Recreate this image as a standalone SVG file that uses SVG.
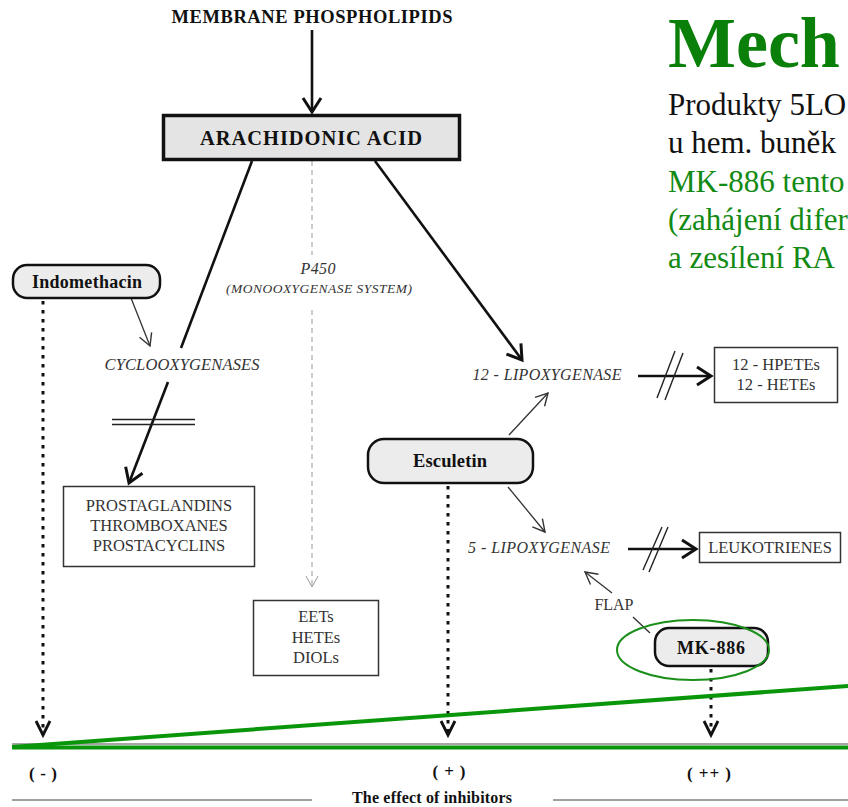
<svg xmlns="http://www.w3.org/2000/svg" width="848" height="807" viewBox="0 0 848 807">
<style>
text{font-family:"Liberation Serif","Times New Roman",serif;fill:#111}
.b{font-weight:bold}
.i{font-style:italic;fill:#333}
.r{fill:#333}
.m{text-anchor:middle}
.box{fill:#fff;stroke:#333;stroke-width:1.5}
.pill{fill:#ececec;stroke:#111;stroke-width:2.5}
.thick{stroke:#111;stroke-width:2.6;fill:none}
.thin{stroke:#333;stroke-width:1.3;fill:none}
.dot{stroke:#111;stroke-width:3;fill:none;stroke-dasharray:3.5 5.5}
.dash{stroke:#999;stroke-width:1;fill:none;stroke-dasharray:5 4}
.slash{stroke:#222;stroke-width:1.4;fill:none}
.green{stroke:#0a960a;stroke-width:4;fill:none}
.gt{fill:#138a13}
</style>
<defs>
<marker id="ahThick" markerUnits="userSpaceOnUse" viewBox="-18 -12 22 24" markerWidth="22" markerHeight="24" refX="0" refY="0" orient="auto">
<path d="M-14,-9 L0,0 L-14,9" fill="none" stroke="#111" stroke-width="3"/>
</marker>
<marker id="ahThin" markerUnits="userSpaceOnUse" viewBox="-16 -10 20 20" markerWidth="20" markerHeight="20" refX="0" refY="0" orient="auto">
<path d="M-12,-6.5 L0,0 L-12,6.5" fill="none" stroke="#333" stroke-width="1.4"/>
</marker>
<marker id="ahDash" markerUnits="userSpaceOnUse" viewBox="-16 -10 20 20" markerWidth="20" markerHeight="20" refX="0" refY="0" orient="auto">
<path d="M-11,-6 L0,0 L-11,6" fill="none" stroke="#999" stroke-width="1"/>
</marker>
<marker id="ahDot" markerUnits="userSpaceOnUse" viewBox="-16 -10 20 20" markerWidth="20" markerHeight="20" refX="0" refY="0" orient="auto">
<path d="M-14,-7 L0,0 L-14,7" fill="none" stroke="#111" stroke-width="2.8"/>
</marker>
</defs>

<g id="title-slide">
<text x="668" y="67" class="b" style="font-size:72px;fill:#0a800a">Mech</text>
<text x="668" y="115" style="font-size:31px">Produkty 5LO</text>
<text x="668" y="153" style="font-size:31px">u hem. buněk</text>
<text x="668" y="192" class="gt" style="font-size:31px">MK-886 tento</text>
<text x="668" y="230" class="gt" style="font-size:31px">(zahájení difer</text>
<text x="668" y="268" class="gt" style="font-size:31px">a zesílení RA</text>
</g>

<g id="connectors">
<line x1="312" y1="30" x2="312" y2="112" class="thick" marker-end="url(#ahThick)"/>
<line x1="252" y1="161" x2="181" y2="348" class="thick"/>
<line x1="168" y1="382" x2="129" y2="483" class="thick" marker-end="url(#ahThick)"/>
<line x1="112" y1="419.5" x2="195" y2="419.5" class="slash"/>
<line x1="112" y1="424.5" x2="195" y2="424.5" class="slash"/>
<line x1="375" y1="161" x2="522" y2="360" class="thick" marker-end="url(#ahThick)"/>
<line x1="312" y1="161" x2="312" y2="255" class="dash"/>
<line x1="312" y1="310" x2="312" y2="587" class="dash" marker-end="url(#ahDash)"/>
<line x1="131" y1="298" x2="150" y2="346" class="thin" marker-end="url(#ahThin)"/>
<line x1="509" y1="435" x2="548" y2="393" class="thin" marker-end="url(#ahThin)"/>
<line x1="508" y1="487" x2="545" y2="532" class="thin" marker-end="url(#ahThin)"/>
<line x1="612" y1="593" x2="585" y2="572" class="thin" marker-end="url(#ahThin)"/>
<line x1="633" y1="617" x2="650" y2="633" class="thin"/>
<line x1="638" y1="376" x2="711" y2="376" class="thick" marker-end="url(#ahThick)"/>
<line x1="657" y1="398" x2="675" y2="351" class="slash"/>
<line x1="665" y1="400" x2="683" y2="353" class="slash"/>
<line x1="628" y1="549" x2="696" y2="549" class="thick" marker-end="url(#ahThick)"/>
<line x1="643" y1="570" x2="662" y2="527" class="slash"/>
<line x1="649" y1="572" x2="668" y2="527" class="slash"/>
<line x1="43" y1="301" x2="43" y2="735" class="dot" marker-end="url(#ahDot)"/>
<line x1="448" y1="486" x2="448" y2="735" class="dot" marker-end="url(#ahDot)"/>
<line x1="711" y1="669" x2="711" y2="735" class="dot" marker-end="url(#ahDot)"/>
</g>

<g id="membrane-phospholipids">
<text x="312" y="23" class="b m" style="font-size:18.5px" textLength="281" lengthAdjust="spacing">MEMBRANE  PHOSPHOLIPIDS</text>
</g>

<g id="arachidonic-acid">
<rect x="163.5" y="115.5" width="296" height="44" fill="#e4e4e4" stroke="#111" stroke-width="3.5"/>
<text x="311" y="145" class="b m" style="font-size:20.5px" textLength="222" lengthAdjust="spacing">ARACHIDONIC  ACID</text>
</g>

<g id="indomethacin">
<rect x="13" y="265" width="147" height="33" rx="14" class="pill"/>
<text x="87" y="288" class="b m" style="font-size:18px" textLength="110" lengthAdjust="spacing">Indomethacin</text>
</g>

<g id="cyclooxygenases">
<text x="182" y="370" class="i m" style="font-size:16.5px" textLength="155" lengthAdjust="spacing">CYCLOOXYGENASES</text>
</g>

<g id="p450">
<text x="318" y="274" class="i m" style="font-size:16px" textLength="35" lengthAdjust="spacing">P450</text>
<text x="319" y="293" class="i m" style="font-size:13.5px" textLength="186" lengthAdjust="spacing">(MONOOXYGENASE SYSTEM)</text>
</g>

<g id="prostaglandins">
<rect x="63.5" y="486.5" width="191" height="80" class="box"/>
<text x="159" y="511" class="r m" style="font-size:16.5px">PROSTAGLANDINS</text>
<text x="159" y="531" class="r m" style="font-size:16.5px">THROMBOXANES</text>
<text x="159" y="551" class="r m" style="font-size:16.5px">PROSTACYCLINS</text>
</g>

<g id="eets">
<rect x="253.5" y="600.5" width="125" height="75" class="box"/>
<text x="316" y="622" class="r m" style="font-size:16.5px">EETs</text>
<text x="316" y="643" class="r m" style="font-size:16.5px">HETEs</text>
<text x="316" y="663" class="r m" style="font-size:16.5px">DIOLs</text>
</g>

<g id="lox12">
<text x="547" y="380" class="i m" style="font-size:16px" textLength="149" lengthAdjust="spacing">12 - LIPOXYGENASE</text>
</g>

<g id="hpetes">
<rect x="714.5" y="347.5" width="123" height="55" class="box"/>
<text x="776" y="370" class="r m" style="font-size:16.5px">12 - HPETEs</text>
<text x="776" y="390" class="r m" style="font-size:16.5px">12 - HETEs</text>
</g>

<g id="esculetin">
<rect x="368" y="439" width="165" height="44" rx="16" class="pill"/>
<text x="450" y="467" class="b m" style="font-size:18.5px" textLength="74" lengthAdjust="spacing">Esculetin</text>
</g>

<g id="lox5">
<text x="539" y="553" class="i m" style="font-size:16px" textLength="142" lengthAdjust="spacing">5 - LIPOXYGENASE</text>
</g>

<g id="leukotrienes">
<rect x="699.5" y="532.5" width="141" height="30" class="box"/>
<text x="770" y="553" class="r m" style="font-size:16.5px">LEUKOTRIENES</text>
</g>

<g id="flap">
<text x="614" y="610" class="r m" style="font-size:16px" textLength="39" lengthAdjust="spacing">FLAP</text>
</g>

<g id="mk886">
<rect x="655" y="628" width="113" height="38" rx="14" class="pill"/>
<text x="711" y="654" class="b m" style="font-size:18px" textLength="68" lengthAdjust="spacing">MK-886</text>
<ellipse cx="693" cy="650" rx="76" ry="30" fill="none" stroke="#1a8f1a" stroke-width="2"/>
</g>

<g id="effect-scale">
<line x1="12" y1="744" x2="848" y2="744" stroke="#888" stroke-width="1.5"/>
<line x1="12" y1="747.5" x2="848" y2="747.5" class="green"/>
<line x1="12" y1="747" x2="848" y2="686" class="green"/>
<text x="43" y="779" class="b m" style="font-size:17px" textLength="28" lengthAdjust="spacing">( - )</text>
<text x="449" y="777" class="b m" style="font-size:17px" textLength="33" lengthAdjust="spacing">( + )</text>
<text x="709" y="779" class="b m" style="font-size:17px" textLength="44" lengthAdjust="spacing">( ++ )</text>
<line x1="12" y1="800" x2="312" y2="800" stroke="#444" stroke-width="1.2"/>
<line x1="553" y1="800" x2="848" y2="800" stroke="#444" stroke-width="1.2"/>
<text x="432" y="803" class="b m" style="font-size:16px" textLength="160" lengthAdjust="spacing">The effect of inhibitors</text>
</g>
</svg>
